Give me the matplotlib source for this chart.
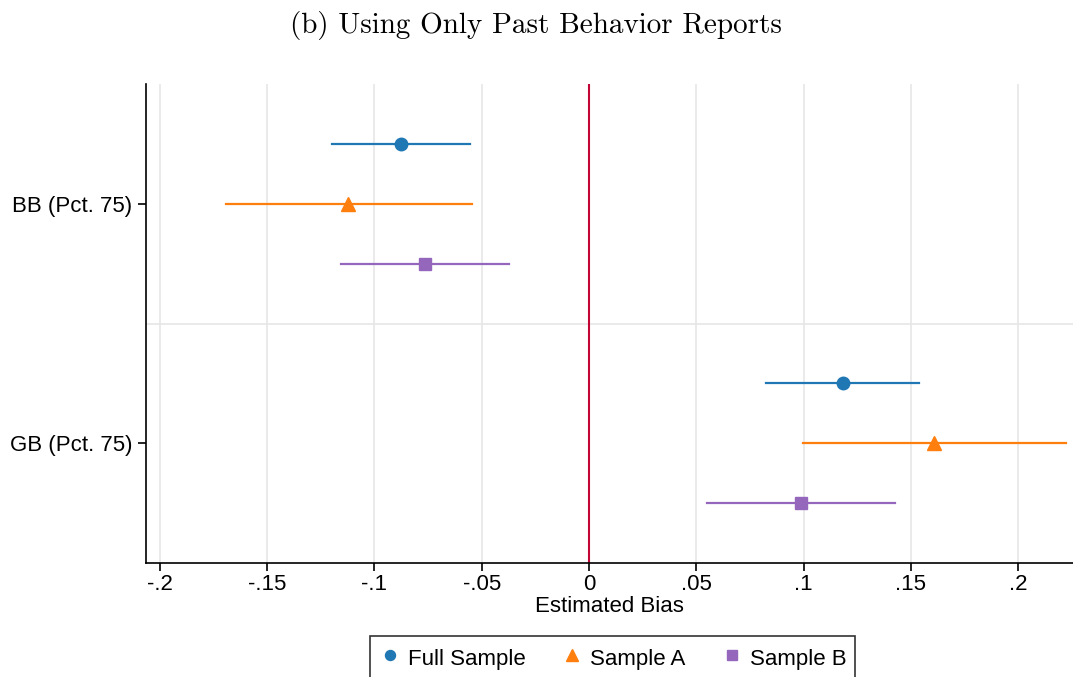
import matplotlib
matplotlib.use("Agg")
import matplotlib.pyplot as plt
import numpy as np

categories = ["BB (Pct. 75)", "GB (Pct. 75)"]
series = ["Full Sample", "Sample A", "Sample B"]
# estimates per series: [BB, GB]
est_full = [-0.0876, 0.1184]
lo_full = [-0.1198, 0.0825]
hi_full = [-0.0555, 0.1538]
est_a = [-0.1124, 0.1608]
lo_a = [-0.1692, 0.0998]
hi_a = [-0.0545, 0.2224]
est_b = [-0.0765, 0.0988]
lo_b = [-0.1156, 0.0550]
hi_b = [-0.0373, 0.1427]
xticks = [-0.2, -0.15, -0.1, -0.05, 0, 0.05, 0.1, 0.15, 0.2]
xticklabels = ["-.2", "-.15", "-.1", "-.05", "0", ".05", ".1", ".15", ".2"]

plt.rcParams['font.family'] = ['Liberation Sans', 'DejaVu Sans']

fig = plt.figure(figsize=(10.73, 6.77), dpi=100)
ax = fig.add_axes([146/1073, 1-563/677, 1-146/1073, (563-84)/677])

colors = ["#1f77b4", "#ff7f0e", "#9467bd"]
markers = ["o", "^", "s"]
msizes = [9, 10, 8.5]
data = [(est_full, lo_full, hi_full), (est_a, lo_a, hi_a), (est_b, lo_b, hi_b)]

for ci, cat in enumerate(categories):
    for si, (e, lo, hi) in enumerate(data):
        y = ci * 4 + si + 1
        ax.plot([lo[ci], hi[ci]], [y, y], color=colors[si], lw=1.6, zorder=3)
        ax.plot(e[ci], y, marker=markers[si], color=colors[si], ms=msizes[si],
                ls='none', zorder=4, label=series[si] if ci == 0 else None)

ax.axvline(0, color="#c10534", lw=1.5, zorder=2)
ax.axhline(4, color="#e6e6e6", lw=1.2, zorder=1)

ax.set_ylim(8, 0)
ax.set_xlim(-0.2065, 0.2256)
ax.set_yticks([2, 6])
ax.set_yticklabels(categories, fontsize=16)
ax.set_xticks(xticks)
ax.set_xticklabels(xticklabels, fontsize=16)
ax.grid(axis='x', color="#e6e6e6", lw=1.2, zorder=0)
ax.set_axisbelow(True)
for s in ['top', 'right']:
    ax.spines[s].set_visible(False)
for s in ['left', 'bottom']:
    ax.spines[s].set_linewidth(1.2)
ax.tick_params(axis='x', direction='out', length=6, width=1.2, pad=2)
ax.tick_params(axis='y', direction='out', length=6, width=1.2, pad=4)
ax.set_xlabel("Estimated Bias", fontsize=16, labelpad=1)

fig.text(0.4995, 1-26/677, "(b) Using Only Past Behavior Reports", ha='center', va='center',
         fontsize=21, family='cmr10')

leg = fig.legend(loc='upper center', bbox_to_anchor=(612.5/1073, 1-636/677), ncol=3,
                 fontsize=16, frameon=True, fancybox=False, edgecolor='black',
                 handletextpad=0.3, columnspacing=1.6, handlelength=1.0,
                 handleheight=1.4, borderpad=0.4, markerscale=0.8, borderaxespad=0)
leg.get_frame().set_linewidth(1.2)

fig.savefig("out.png", dpi=100)
